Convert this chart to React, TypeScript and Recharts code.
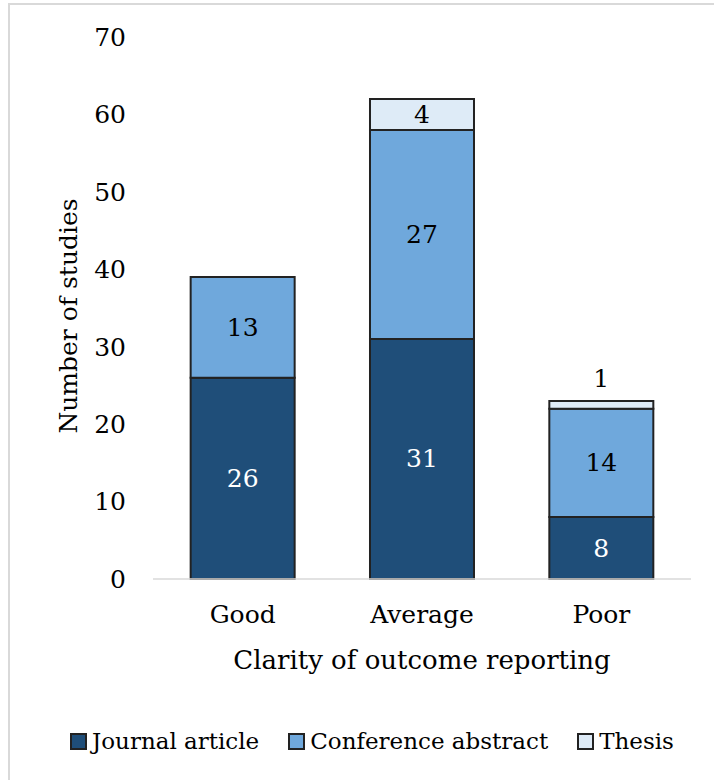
import React from 'react';
import { BarChart, Bar, XAxis, YAxis, LabelList, Label } from 'recharts';

const categories = ['Good', 'Average', 'Poor'];
const journalArticle = [26, 31, 8];
const conferenceAbstract = [13, 27, 14];
const thesis = [0, 4, 1];
const yTicks = [0, 10, 20, 30, 40, 50, 60, 70];
const seriesKeys = ['journal', 'conference', 'thesis'];
const seriesNames = ['Journal article', 'Conference abstract', 'Thesis'];
const seriesColors = ['#1f4e79', '#6fa8dc', '#deebf7'];
const labelColors = ['#ffffff', '#000000', '#000000'];
const xTitle = 'Clarity of outcome reporting';
const yTitle = 'Number of studies';

const data = categories.map((c, i) => ({
  category: c,
  journal: journalArticle[i],
  conference: conferenceAbstract[i],
  thesis: thesis[i],
}));

const FONT = "'DejaVu Serif', serif";

const makeLabel = (color: string) => (props: any) => {
  const { x, y, width, height, value } = props;
  if (!value) return null;
  const cx = x + width / 2;
  const small = Math.abs(height) < 22;
  const cy = small ? y - 22 : y + height / 2;
  return (
    <text x={cx} y={cy} textAnchor="middle" dominantBaseline="central" fill={color} fontSize={25} fontFamily={FONT}>
      {value}
    </text>
  );
};

export default function App() {
  return (
    <div style={{ position: 'absolute', left: 0, top: 0, width: 714, height: 780, overflow: 'hidden', background: '#fff' }}>
      <div style={{ position: 'absolute', left: 8, top: 3, width: 730, height: 820, border: '2px solid #d9d9d9', boxSizing: 'border-box' }} />
      <div style={{ position: 'absolute', left: 0, top: 0 }}>
        <BarChart
          width={714}
          height={780}
          data={data}
          margin={{ top: 37, right: 23, bottom: 141, left: 93 }}
          barCategoryGap="21%"
        >
          <XAxis
            dataKey="category"
            axisLine={{ stroke: '#d9d9d9', strokeWidth: 1.5 }}
            tickLine={false}
            tickSize={0}
            tickMargin={26}
            height={60}
            tick={{ fill: '#000', fontSize: 25, fontFamily: FONT }}
          >
            <Label
              content={(p: any) => {
                const vb = p.viewBox;
                return (
                  <text x={vb.x + vb.width / 2} y={vb.y + 90} textAnchor="middle" fill="#000" fontSize={26} fontFamily={FONT}>
                    {xTitle}
                  </text>
                );
              }}
            />
          </XAxis>
          <YAxis
            domain={[0, 70]}
            ticks={yTicks}
            interval={0}
            width={60}
            axisLine={false}
            tickLine={false}
            tickSize={0}
            tickMargin={27}
            tick={{ fill: '#000', fontSize: 25, fontFamily: FONT }}
          >
            <Label
              content={(p: any) => {
                const vb = p.viewBox;
                const cx = 68;
                const cy = vb.y + vb.height / 2 + 8;
                return (
                  <text x={cx} y={cy} transform={`rotate(-90 ${cx} ${cy})`} textAnchor="middle" dominantBaseline="central" fill="#000" fontSize={25} fontFamily={FONT}>
                    {yTitle}
                  </text>
                );
              }}
            />
          </YAxis>
          {seriesKeys.map((k, i) => (
            <Bar
              key={k}
              dataKey={k}
              name={seriesNames[i]}
              stackId="a"
              fill={seriesColors[i]}
              stroke="#222"
              strokeWidth={2}
              isAnimationActive={false}
            >
              <LabelList dataKey={k} content={makeLabel(labelColors[i])} />
            </Bar>
          ))}
        </BarChart>
      </div>
      <div
        style={{
          position: 'absolute',
          left: 70,
          top: 728,
          display: 'flex',
          alignItems: 'center',
          fontFamily: FONT,
          fontSize: 23,
          color: '#000',
          whiteSpace: 'nowrap',
        }}
      >
        {seriesNames.map((n, i) => (
          <div key={n} style={{ display: 'flex', alignItems: 'center', marginRight: 29 }}>
            <span
              style={{
                display: 'inline-block',
                width: 13,
                height: 13,
                background: seriesColors[i],
                border: '2px solid #222',
                marginRight: 5,
              }}
            />
            <span>{n}</span>
          </div>
        ))}
      </div>
    </div>
  );
}
